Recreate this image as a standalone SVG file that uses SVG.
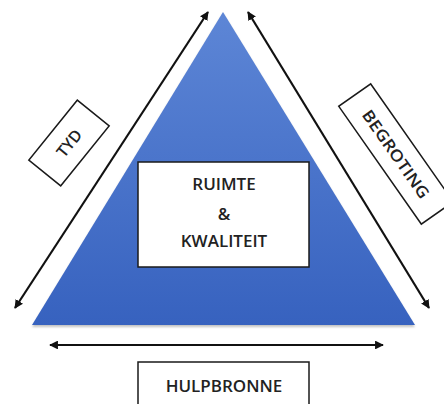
<svg xmlns="http://www.w3.org/2000/svg" width="444" height="404" viewBox="0 0 444 404">
  <defs>
    <linearGradient id="blueFill" x1="0" y1="0" x2="0" y2="1">
      <stop offset="0" stop-color="#5d86d6"/>
      <stop offset="1" stop-color="#3762bf"/>
    </linearGradient>
    <filter id="soft" x="-10%" y="-10%" width="120%" height="120%">
      <feGaussianBlur stdDeviation="1.2"/>
    </filter>
    <marker id="head" viewBox="0 0 10 10" refX="9" refY="5" markerWidth="4" markerHeight="4" orient="auto-start-reverse" markerUnits="strokeWidth">
      <path d="M0,0 L10,5 L0,10 Z" fill="#111"/>
    </marker>
    <style>
      .box { fill: #fff; stroke: #1a1a1a; stroke-width: 1.5; }
      .lbl { font-family: "Open Sans", "Liberation Sans", sans-serif; font-weight: 600; fill: #222; text-anchor: middle; }
      .conn { stroke: #111; stroke-width: 2.2; fill: none; marker-start: url(#head); marker-end: url(#head); }
    </style>
  </defs>

  <rect width="444" height="404" fill="#fff"/>

  <!-- pyramid -->
  <g id="triangle">
    <polygon points="223,14 32,327 415,327" fill="#9a9a9a" opacity="0.6" filter="url(#soft)"/>
    <polygon points="223,12 32,325 415,325" fill="url(#blueFill)"/>
  </g>

  <!-- double-headed connectors along the sides -->
  <g id="connectors">
    <line class="conn" x1="15" y1="308" x2="208" y2="12"/>
    <line class="conn" x1="248" y1="12" x2="429" y2="308"/>
    <line class="conn" x1="50" y1="345" x2="383" y2="345"/>
  </g>

  <g id="scope">
    <rect class="box" x="138" y="162" width="171" height="105"/>
    <text class="lbl" x="224" y="190" font-size="17">RUIMTE</text>
    <text class="lbl" x="224" y="220" font-size="17">&amp;</text>
    <text class="lbl" x="224" y="247" font-size="17">KWALITEIT</text>
  </g>

  <g id="time" transform="translate(69,143) rotate(-51)">
    <rect class="box" x="-38.5" y="-20.5" width="77" height="41"/>
    <text class="lbl" x="0" y="6" font-size="16" font-weight="500">TYD</text>
  </g>

  <g id="budget" transform="translate(396,154) rotate(55)">
    <rect class="box" x="-72" y="-19.5" width="144" height="39"/>
    <text class="lbl" x="0" y="6" font-size="16" font-weight="500" textLength="104" lengthAdjust="spacingAndGlyphs">BEGROTING</text>
  </g>

  <g id="resources">
    <rect class="box" x="138" y="362" width="171" height="50"/>
    <text class="lbl" x="224" y="392" font-size="17">HULPBRONNE</text>
  </g>
</svg>
